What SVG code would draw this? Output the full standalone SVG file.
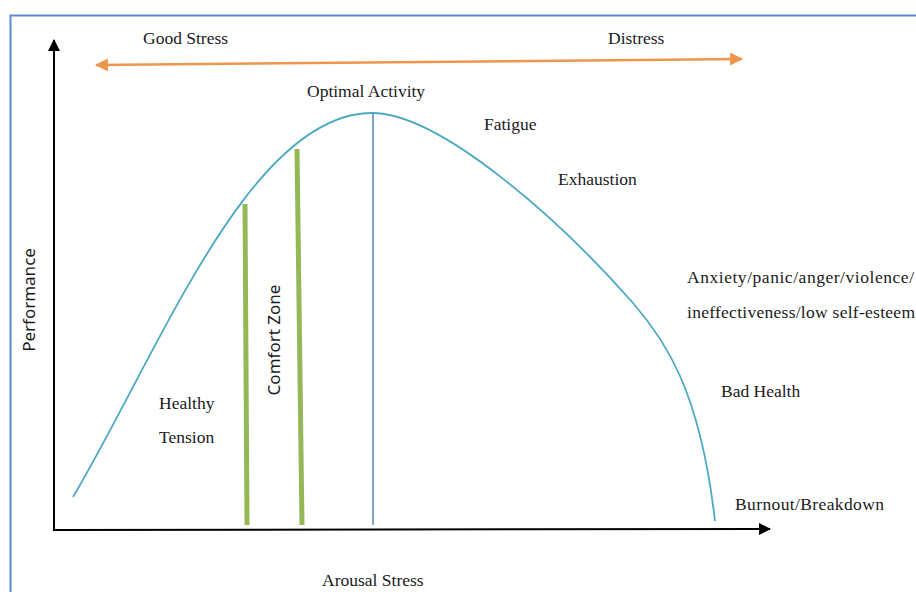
<svg xmlns="http://www.w3.org/2000/svg" width="916" height="592" viewBox="0 0 916 592">
  <defs>
    <marker id="arrowBlack" viewBox="0 0 12 12" refX="11" refY="6" markerWidth="12" markerHeight="12" markerUnits="userSpaceOnUse" orient="auto">
      <path d="M0,0 L12,6 L0,12 Z" fill="#000"/>
    </marker>
    <marker id="arrowOrange" viewBox="0 0 12 12" refX="11" refY="6" markerWidth="13" markerHeight="13" markerUnits="userSpaceOnUse" orient="auto-start-reverse">
      <path d="M0,0 L12,6 L0,12 Z" fill="#F0964B"/>
    </marker>
    <style>
      .lbl { font-family: "Liberation Serif", "DejaVu Serif", serif; font-size: 17.5px; fill: #1a1a1a; }
      .vlbl { font-family: "Noto Sans", "Open Sans", sans-serif; font-size: 17px; fill: #1a1a1a; }
      .axis { stroke: #000; stroke-width: 2; fill: none; }
      .bar { stroke: #93B957; stroke-width: 5; fill: none; }
    </style>
  </defs>

  <rect width="916" height="592" fill="#fff"/>
  <!-- frame -->
  <path d="M10.5,592 V15.5 H916" fill="none" stroke="#5B8CCB" stroke-width="2"/>

  <g id="connectors">
    <!-- axes -->
    <line class="axis" x1="54" y1="531" x2="54" y2="40" marker-end="url(#arrowBlack)"/>
    <line class="axis" x1="53" y1="530" x2="770" y2="529" marker-end="url(#arrowBlack)"/>
    <!-- stress range arrow -->
    <line x1="96" y1="65" x2="742" y2="59" stroke="#F0964B" stroke-width="2.5" marker-start="url(#arrowOrange)" marker-end="url(#arrowOrange)"/>
    <!-- performance curve -->
    <path d="M73,497 C160,350 250,113 372,113 C440,113 560,220 633,303 C665,340 700,390 715,521" fill="none" stroke="#4BA9C2" stroke-width="1.8"/>
    <!-- optimum marker -->
    <line x1="373" y1="113" x2="373" y2="525" stroke="#5A86BD" stroke-width="1.5"/>
    <!-- comfort zone bounds -->
    <line class="bar" x1="245" y1="204" x2="247" y2="525"/>
    <line class="bar" x1="297" y1="149" x2="302" y2="525"/>
  </g>

  <g id="good-stress"><text class="lbl" x="143" y="44">Good Stress</text></g>
  <g id="distress"><text class="lbl" x="608" y="44">Distress</text></g>
  <g id="optimal-activity"><text class="lbl" x="307" y="97">Optimal Activity</text></g>
  <g id="fatigue"><text class="lbl" x="484" y="130">Fatigue</text></g>
  <g id="exhaustion"><text class="lbl" x="558" y="185">Exhaustion</text></g>
  <g id="anxiety">
    <text class="lbl" x="687" y="283" textLength="227" lengthAdjust="spacing">Anxiety/panic/anger/violence/</text>
    <text class="lbl" x="687" y="318" textLength="228" lengthAdjust="spacing">ineffectiveness/low self-esteem</text>
  </g>
  <g id="bad-health"><text class="lbl" x="721" y="397">Bad Health</text></g>
  <g id="burnout"><text class="lbl" x="735" y="510" textLength="149" lengthAdjust="spacing">Burnout/Breakdown</text></g>
  <g id="healthy-tension">
    <text class="lbl" x="159" y="409">Healthy</text>
    <text class="lbl" x="159" y="443">Tension</text>
  </g>
  <g id="comfort-zone"><text class="vlbl" transform="translate(280,340) rotate(-90)" text-anchor="middle">Comfort Zone</text></g>
  <g id="performance"><text class="vlbl" transform="translate(35,300) rotate(-90)" text-anchor="middle">Performance</text></g>
  <g id="arousal-stress"><text class="lbl" x="322" y="586">Arousal Stress</text></g>
</svg>
